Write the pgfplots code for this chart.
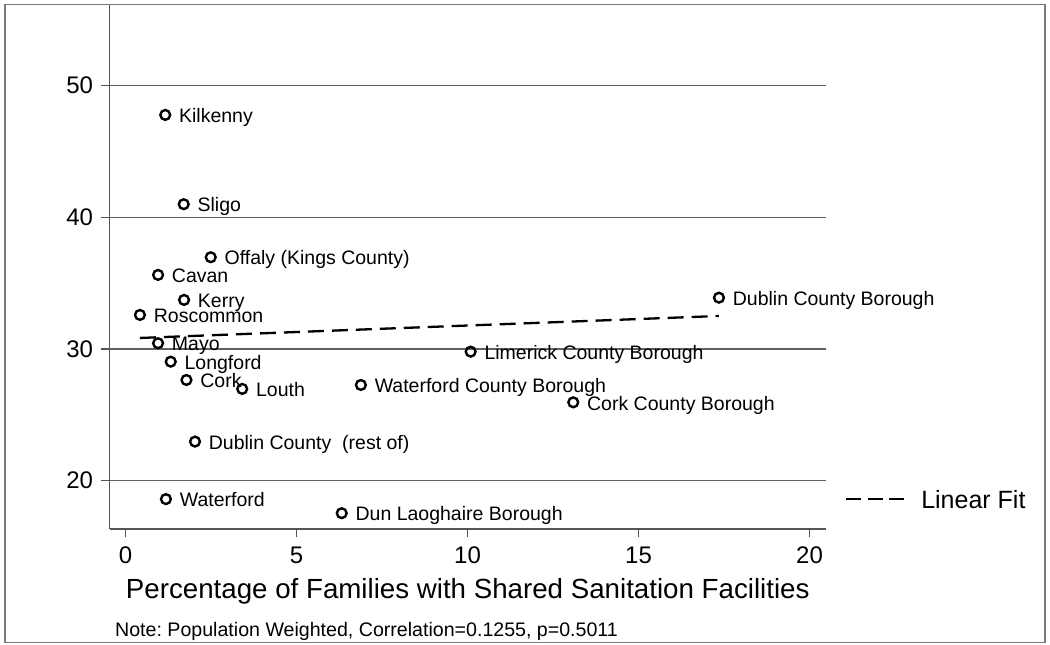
\documentclass[border=0pt]{standalone}
\usepackage{pgfplots}
\pgfplotsset{compat=1.18}
\usepackage{fontspec}
\setmainfont{Liberation Sans}
\frenchspacing
\definecolor{axisgray}{HTML}{555555}
\definecolor{gridgray}{HTML}{606060}
\definecolor{framegray}{HTML}{7A7A7A}
\begin{document}
\begin{tikzpicture}
\useasboundingbox (0pt,0pt) rectangle (1050pt,645pt);
\draw[framegray, line width=1.5pt] (5pt,2.3pt) rectangle (1045pt,640.7pt);
\begin{axis}[
  scale only axis, width=716.5pt, height=524pt,
  at={(109.5pt,116pt)}, anchor=south west,
  xmin=-0.47, xmax=20.48, ymin=16.33, ymax=56.13,
  axis x line*=bottom, axis y line*=left,
  axis line style={draw=axisgray, line width=1.8pt, -},
  xtick={0,5,10,15,20}, ytick={20,30,40,50},
  ymajorgrids, grid style={gridgray, line width=1.2pt},
  tick align=outside, major tick length=8.5pt,
  tick style={axisgray, line width=1.5pt},
  /pgf/number format/assume math mode=true,
  ticklabel style={font=\fontsize{24}{28}\selectfont, inner sep=0pt},
  yticklabel style={anchor=east, xshift=-7.7pt},
  xticklabel style={anchor=north, yshift=-9.5pt},
  xlabel={Percentage of Families with Shared Sanitation Facilities},
  xlabel style={at={(axis description cs:0.5,-0.1317)}, anchor=base, inner sep=0pt, font=\fontsize{27.7}{32}\selectfont},
  clip=false,
  legend style={draw=none, fill=none, inner sep=0pt, outer sep=0pt,
    at={(axis description cs:1.0265,0.0567)}, anchor=west,
    nodes={inner sep=0pt, text depth=0pt}, cells={anchor=center},
    font=\fontsize{25}{30}\selectfont,
    /tikz/every odd column/.append style={column sep=16pt}},
  legend image code/.code={\draw[#1, dash pattern=on 15pt off 6.5pt] (0pt,0pt) -- (58pt,0pt);},
]
\addplot[only marks, mark=o, mark size=4.9pt, line width=2.4pt, black,
  mark options={line width=2.4pt},
  point meta=explicit symbolic, nodes near coords,
  every node near coord/.append style={anchor=base west, inner sep=0pt, xshift=12.7pt, yshift=-7.7pt, font=\fontsize{19.5}{23}\selectfont, text=black},
  forget plot]
  table[x=x, y=y, meta=label, col sep=comma] {
x,y,label
1.16,47.78,Kilkenny
1.70,41.00,Sligo
2.49,36.97,Offaly (Kings County)
0.95,35.63,Cavan
1.71,33.73,Kerry
0.42,32.59,Roscommon
0.95,30.44,Mayo
1.32,29.04,Longford
1.78,27.65,Cork
3.41,26.97,Louth
6.88,27.27,Waterford County Borough
2.03,22.97,Dublin County~ (rest of)
1.18,18.60,Waterford
6.32,17.53,Dun Laoghaire Borough
17.35,33.90,Dublin County Borough
10.09,29.80,Limerick County Borough
13.09,25.95,Cork County Borough
};
\addplot[black, line width=2.3pt, dash pattern=on 16pt off 8pt] coordinates {(0.42,30.84) (17.35,32.51)};
\addlegendentry{Linear Fit}
\end{axis}
\node[anchor=base west, inner sep=0pt, font=\fontsize{19.6}{23}\selectfont] at (115pt,8.3pt) {Note: Population Weighted, Correlation=0.1255, p=0.5011};
\end{tikzpicture}
\end{document}
